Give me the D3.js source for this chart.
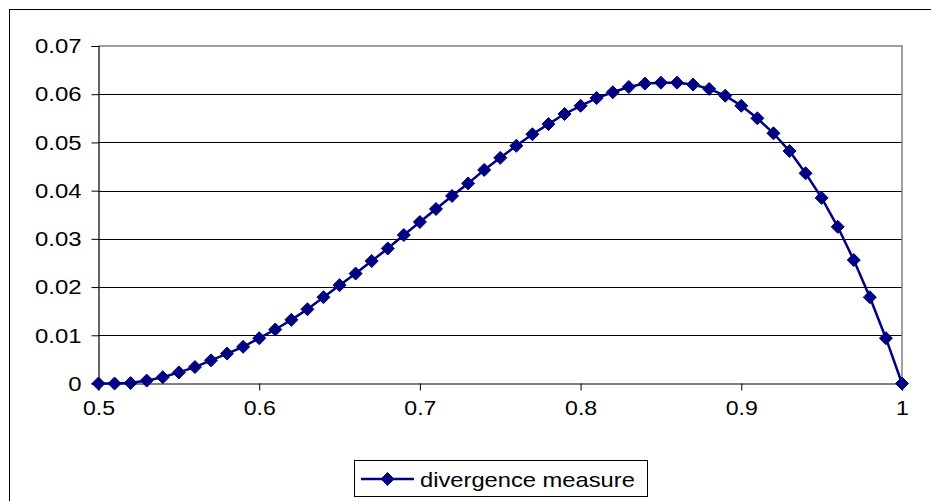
<!DOCTYPE html>
<html>
<head>
<meta charset="utf-8">
<script src="https://cdn.jsdelivr.net/npm/d3@7/dist/d3.min.js"></script>
<style>
  html, body { margin: 0; padding: 0; background: #fff; }
  svg { display: block; }
  text { font-family: "Liberation Sans", Arial, sans-serif; fill: #000; }
</style>
</head>
<body>
<svg id="chart" width="931" height="501"></svg>
<script>
const xValues = [0.50,0.51,0.52,0.53,0.54,0.55,0.56,0.57,0.58,0.59,
                 0.60,0.61,0.62,0.63,0.64,0.65,0.66,0.67,0.68,0.69,
                 0.70,0.71,0.72,0.73,0.74,0.75,0.76,0.77,0.78,0.79,
                 0.80,0.81,0.82,0.83,0.84,0.85,0.86,0.87,0.88,0.89,
                 0.90,0.91,0.92,0.93,0.94,0.95,0.96,0.97,0.98,0.99,1.00];
const divergence = [0.0000,0.0000,0.0001,0.0006,0.0013,0.0023,0.0034,0.0048,0.0062,0.0076,
                    0.0094,0.0112,0.0132,0.0154,0.0179,0.0204,0.0228,0.0254,0.0280,0.0308,
                    0.0335,0.0362,0.0389,0.0415,0.0443,0.0468,0.0493,0.0517,0.0538,0.0559,
                    0.0576,0.0592,0.0604,0.0615,0.0622,0.0624,0.0624,0.0620,0.0611,0.0597,
                    0.0576,0.0550,0.0519,0.0482,0.0436,0.0385,0.0325,0.0256,0.0179,0.0094,0.0000];
const yTicks = [0,0.01,0.02,0.03,0.04,0.05,0.06,0.07];
const xTicks = [0.5,0.6,0.7,0.8,0.9,1.0];
const seriesName = "divergence measure";

const svg = d3.select("#chart");
const navy = "#000080";

// outer chart frame (extends past the picture on right/bottom)
svg.append("rect").attr("x", 9.5).attr("y", 9.5).attr("width", 1000).attr("height", 1000)
  .attr("fill", "#fff").attr("stroke", "#000").attr("stroke-width", 1);

const x = d3.scaleLinear().domain([0.5, 1]).range([98.5, 902]);
const y = d3.scaleLinear().domain([0, 0.07]).range([383.5, 46]);

// gridlines
svg.append("g").selectAll("line").data(yTicks.filter(d => d > 0 && d < 0.07)).join("line")
  .attr("x1", x(0.5)).attr("x2", x(1))
  .attr("y1", d => Math.round(y(d)) + 0.5).attr("y2", d => Math.round(y(d)) + 0.5)
  .attr("stroke", "#000").attr("stroke-width", 1);

// plot border top/right (gray)
svg.append("path")
  .attr("d", `M${x(0.5)},${y(0.07)}H${x(1)}V${y(0)}`)
  .attr("fill", "none").attr("stroke", "#808080").attr("stroke-width", 1.5);

// y axis
const yAxis = d3.axisLeft(y).tickValues(yTicks).tickSize(7).tickPadding(10)
  .tickFormat(d => d === 0 ? "0" : d3.format(".2f")(d));
const gy = svg.append("g").attr("transform", `translate(${x(0.5)},0)`).call(yAxis);
gy.select(".domain").attr("stroke", "#000").attr("stroke-width", 1.2);
gy.selectAll(".tick line").attr("stroke", "#000");
gy.selectAll("text").attr("font-size", 21).attr("fill", "#000")
  .attr("font-family", "'Liberation Sans', Arial, sans-serif")
  .attr("transform", "scale(1.14,1)").attr("x", -17 / 1.14);

// x axis
const xAxis = d3.axisBottom(x).tickValues(xTicks).tickSize(7).tickPadding(10)
  .tickFormat(d => d === 1 ? "1" : d3.format(".1f")(d));
const gx = svg.append("g").attr("transform", `translate(0,${y(0)})`).call(xAxis);
gx.select(".domain").attr("stroke", "#000").attr("stroke-width", 1.2);
gx.selectAll(".tick line").attr("stroke", "#000");
gx.selectAll("text").attr("font-size", 21).attr("fill", "#000")
  .attr("font-family", "'Liberation Sans', Arial, sans-serif")
  .attr("transform", "scale(1.1,1)");

// series line
const data = xValues.map((v, i) => ({ x: v, y: divergence[i] }));
svg.append("path").datum(data)
  .attr("d", d3.line().x(d => x(d.x)).y(d => y(d.y)))
  .attr("fill", "none").attr("stroke", navy).attr("stroke-width", 2.5);

// markers
const r = 6.5;
const diamondPath = `M0,${-r}L${r},0L0,${r}L${-r},0Z`;
svg.append("g").selectAll("path").data(data).join("path")
  .attr("d", diamondPath)
  .attr("transform", d => `translate(${x(d.x)},${y(d.y)})`)
  .attr("fill", navy).attr("stroke", navy).attr("stroke-width", 1);

// legend
const lg = svg.append("g");
lg.append("rect").attr("x", 354.5).attr("y", 460.5).attr("width", 293).attr("height", 36)
  .attr("fill", "#fff").attr("stroke", "#000").attr("stroke-width", 1);
lg.append("line").attr("x1", 361).attr("x2", 414).attr("y1", 479).attr("y2", 479)
  .attr("stroke", navy).attr("stroke-width", 2.5);
lg.append("path").attr("d", diamondPath).attr("transform", "translate(387.5,479)")
  .attr("fill", navy).attr("stroke", navy);
lg.append("text").attr("transform", "translate(420,486.5) scale(1.13,1)")
  .attr("font-size", 21).text(seriesName);
</script>
</body>
</html>
